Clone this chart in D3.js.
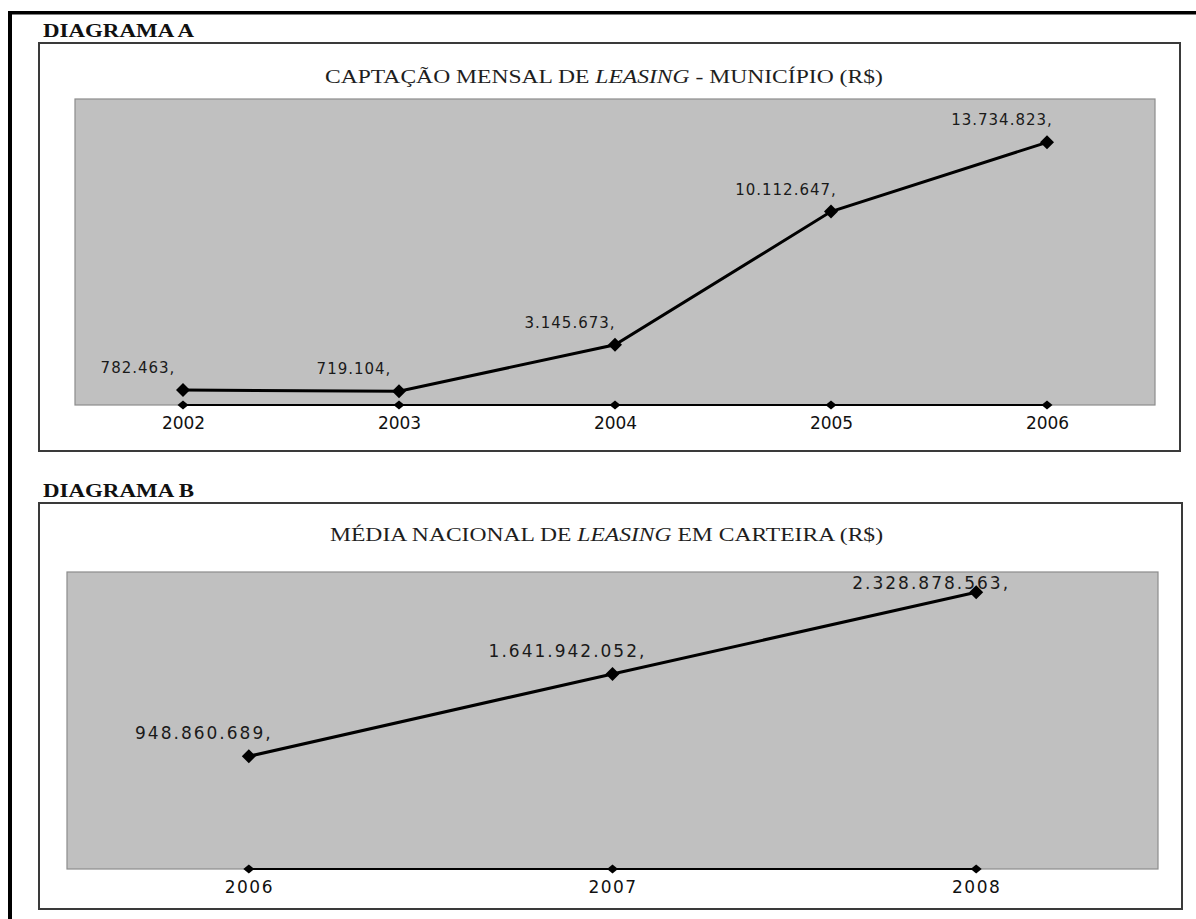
<!DOCTYPE html>
<html>
<head>
<meta charset="utf-8">
<script src="https://cdn.jsdelivr.net/npm/d3@7"></script>
<style>
html, body { margin: 0; padding: 0; background: #fff; }
svg { display: block; }
text { white-space: pre; }
</style>
</head>
<body>
<svg id="chart" width="1196" height="919"></svg>
<script>
// --- Diagrama A: captação mensal de leasing, município
var yearsA = ["2002", "2003", "2004", "2005", "2006"]
var valuesA = [782463, 719104, 3145673, 10112647, 13734823]
var axisMaxA = 16000000

// --- Diagrama B: média nacional de leasing em carteira
var yearsB = ["2006", "2007", "2008"]
var valuesB = [948860689, 1641942052, 2328878563]
var axisMaxB = 2500000000

var ptBR = d3.formatLocale({decimal: ",", thousands: ".", grouping: [3], currency: ["R$ ", ""]})
var fmtLabel = v => ptBR.format(",d")(v) + ","

var svg = d3.select("#chart")

// thick page border, only top and left show
svg.append("rect").attr("x", 8).attr("y", 11).attr("width", 1188).attr("height", 3.5).attr("fill", "#000")
svg.append("rect").attr("x", 8).attr("y", 11).attr("width", 4).attr("height", 908).attr("fill", "#000")

var diamond = (w, h) => `M0,${-h / 2}L${w / 2},0L0,${h / 2}L${-w / 2},0Z`

// the original serif face is wider than Liberation Serif: stretch glyphs horizontally
var stretchX = (sel, x, y, sx) => {
    sel.attr("x", 0).attr("y", 0)
        .attr("transform", `translate(${x},${y}) scale(${sx},1)`)
}

var HEAD_W = 151   // width of "DIAGRAMA A" in the reference
var TITLE_W = 558  // width of the first chart title in the reference
var titleScale = null

var drawChart = (c) => {
    var g = svg.append("g")

    var head = g.append("text")
        .attr("font-family", "Liberation Serif")
        .attr("font-weight", "bold")
        .attr("font-size", 18)
        .attr("fill", "#111")
        .text(c.heading)
    stretchX(head, c.headX, c.headY, HEAD_W / head.node().getComputedTextLength())

    g.append("rect")
        .attr("x", c.frame.x).attr("y", c.frame.y)
        .attr("width", c.frame.w).attr("height", c.frame.h)
        .attr("fill", "#fff")
        .attr("stroke", "#3a3a3a")
        .attr("stroke-width", 2)

    var title = g.append("text")
        .attr("font-family", "Liberation Serif")
        .attr("font-size", 19)
        .attr("fill", "#1e1e1e")
    title.append("tspan").text(c.title[0])
    title.append("tspan").attr("font-style", "italic").text(c.title[1])
    title.append("tspan").text(c.title[2])
    if (titleScale === null) titleScale = TITLE_W / title.node().getComputedTextLength()
    stretchX(title, c.titleX, c.titleY, titleScale)

    var p = c.plot
    g.append("rect")
        .attr("x", p.x).attr("y", p.y)
        .attr("width", p.w).attr("height", p.h)
        .attr("fill", "#c0c0c0")
        .attr("stroke", "#8c8c8c")
        .attr("stroke-width", 1.2)

    var x = d3.scalePoint().domain(c.years).range([p.x, p.x + p.w]).padding(0.5)
    var y = d3.scaleLinear().domain([0, c.yMax]).range([p.y + p.h, p.y])
    var bottom = p.y + p.h

    // category axis
    var ax = g.append("g")
        .attr("transform", `translate(0,${bottom})`)
        .call(d3.axisBottom(x).tickSize(0).tickPadding(12))
    ax.select(".domain").remove()
    ax.selectAll("text")
        .attr("font-family", "DejaVu Sans")
        .attr("font-size", 17)
        .attr("fill", "#111")
        .style("letter-spacing", c.yearSpacing + "px")

    g.append("line")
        .attr("x1", x(c.years[0])).attr("x2", x(c.years[c.years.length - 1]))
        .attr("y1", bottom).attr("y2", bottom)
        .attr("stroke", "#000").attr("stroke-width", 2)

    g.selectAll(".tickmark")
        .data(c.years).enter()
        .append("path")
        .attr("class", "tickmark")
        .attr("d", diamond(11, 9))
        .attr("transform", d => `translate(${x(d)},${bottom})`)
        .attr("fill", "#000")

    var line = d3.line()
        .x((d, i) => x(c.years[i]))
        .y(d => y(d))

    g.append("path")
        .datum(c.values)
        .attr("d", line)
        .attr("fill", "none")
        .attr("stroke", "#000")
        .attr("stroke-width", 3)

    g.selectAll(".point")
        .data(c.values).enter()
        .append("path")
        .attr("class", "point")
        .attr("d", diamond(14, 14))
        .attr("transform", (d, i) => `translate(${x(c.years[i])},${y(d)})`)
        .attr("fill", "#000")

    // data labels sit up-left of the point, kept inside the plot
    var minBase = p.y + c.labelSize * 0.73 + 5
    g.selectAll(".dlabel")
        .data(c.values).enter()
        .append("text")
        .attr("class", "dlabel")
        .attr("x", (d, i) => x(c.years[i]) - 45)
        .attr("y", d => Math.max(y(d) - 17, minBase))
        .attr("text-anchor", "middle")
        .attr("font-family", "DejaVu Sans")
        .attr("font-size", c.labelSize)
        .attr("fill", "#1a1a1a")
        .style("letter-spacing", c.labelSpacing + "px")
        .text(fmtLabel)
}

drawChart({
    heading: "DIAGRAMA A", headX: 43, headY: 37,
    frame: {x: 39, y: 43, w: 1141, h: 408},
    title: ["CAPTAÇÃO MENSAL DE ", "LEASING", " - MUNICÍPIO (R$)"],
    titleX: 325, titleY: 83,
    plot: {x: 75, y: 99, w: 1080, h: 306},
    years: yearsA, values: valuesA, yMax: axisMaxA,
    labelSize: 15, labelSpacing: 1, yearSpacing: 0
})

drawChart({
    heading: "DIAGRAMA B", headX: 43, headY: 497,
    frame: {x: 39, y: 503, w: 1143, h: 406},
    title: ["MÉDIA NACIONAL DE ", "LEASING", " EM CARTEIRA (R$)"],
    titleX: 330, titleY: 541,
    plot: {x: 67, y: 572, w: 1091, h: 297},
    years: yearsB, values: valuesB, yMax: axisMaxB,
    labelSize: 17, labelSpacing: 2, yearSpacing: 1.5
})
</script>
</body>
</html>
